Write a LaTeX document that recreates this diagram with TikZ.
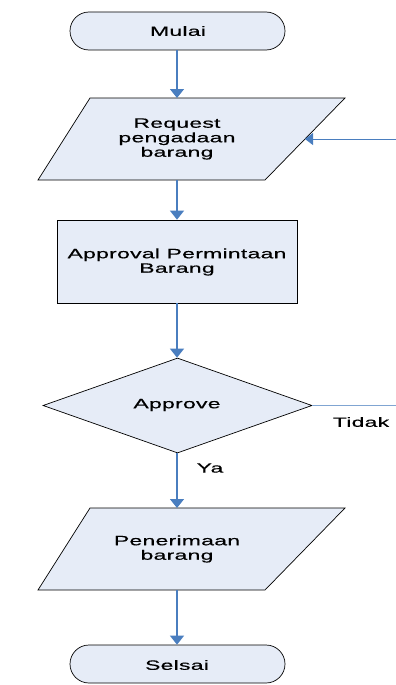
\documentclass[tikz,border=0pt]{standalone}
\usepackage{fontspec}
\setmainfont{Liberation Sans}[FakeStretch=1.7, LetterSpace=2, FakeBold=0.4]
\usetikzlibrary{shapes.geometric,shapes.misc,arrows.meta}

\definecolor{boxfill}{HTML}{E6ECF7}
\definecolor{flowblue}{HTML}{4A7EBF}

\tikzset{
  chart/.style={draw=black, line width=0.7pt, fill=boxfill},
  terminal/.style={chart, rounded rectangle, minimum width=215pt, minimum height=38pt, inner sep=0pt},
  process/.style={chart, rectangle, minimum width=240pt, minimum height=83pt, inner sep=0pt},
  decision/.style={chart, diamond, minimum width=269pt, minimum height=95pt, inner sep=0pt},
  label/.style={font=\fontsize{13.5}{14.5}\selectfont, align=center, inner sep=0pt},
  flow/.style={draw=flowblue, line width=1.3pt, -{Triangle[width=14pt,length=9pt]}},
  thinflow/.style={draw=flowblue, line width=0.9pt, -{Triangle[width=12pt,length=8pt]}},
  thinline/.style={draw=flowblue!70, line width=0.8pt}
}

\begin{document}
\begin{tikzpicture}[x=1pt, y=-1pt]
\useasboundingbox (0,0) rectangle (396,685);

% start terminal
\node[terminal] (mulai) at (177.5,31) {};
\node[label] (mulaiT) at (178,31) {Mulai};

% input: request
\draw[chart] (90,98) -- (345,98) -- (265,180) -- (38,180) -- cycle;
\node[label] (req) at (177,139) {Request\\pengadaan\\barang};
\coordinate (reqTop) at (177,98);
\coordinate (reqBot) at (177,180);
\coordinate (reqRight) at (305,139);
\coordinate (feed) at (396,139);

% process: approval
\node[process] (appr) at (177,261.5) {};
\node[label] (apprT) at (177,262) {Approval Permintaan\\Barang};

% decision
\node[decision] (dec) at (177.5,405.5) {};
\node[label] (decT) at (177,405) {Approve};
\coordinate (tidakEnd) at (396,405.5);
\node[label] (tidak) at (361,422) {Tidak};
\node[label] (ya) at (210,468) {Ya};

% input: receipt
\draw[chart] (90,508) -- (345,508) -- (265,590) -- (38,590) -- cycle;
\node[label] (terima) at (177,549) {Penerimaan\\barang};
\coordinate (terTop) at (177,508);
\coordinate (terBot) at (177,590);

% end terminal
\node[terminal] (selesai) at (177.5,664) {};
\node[label] (selesaiT) at (177,665) {Selsai};

% connectors
\draw[flow] (mulai.south -| reqTop) -- (reqTop);
\draw[thinflow] (feed) -- (reqRight);
\draw[flow] (reqBot) -- (appr.north -| reqBot);
\draw[flow] (appr.south -| reqBot) -- (dec.north -| reqBot);
\draw[thinline] (dec.east) -- (tidakEnd);
\draw[flow] (dec.south -| reqBot) -- (terTop);
\draw[flow] (terBot) -- (selesai.north -| terBot);
\end{tikzpicture}
\end{document}
